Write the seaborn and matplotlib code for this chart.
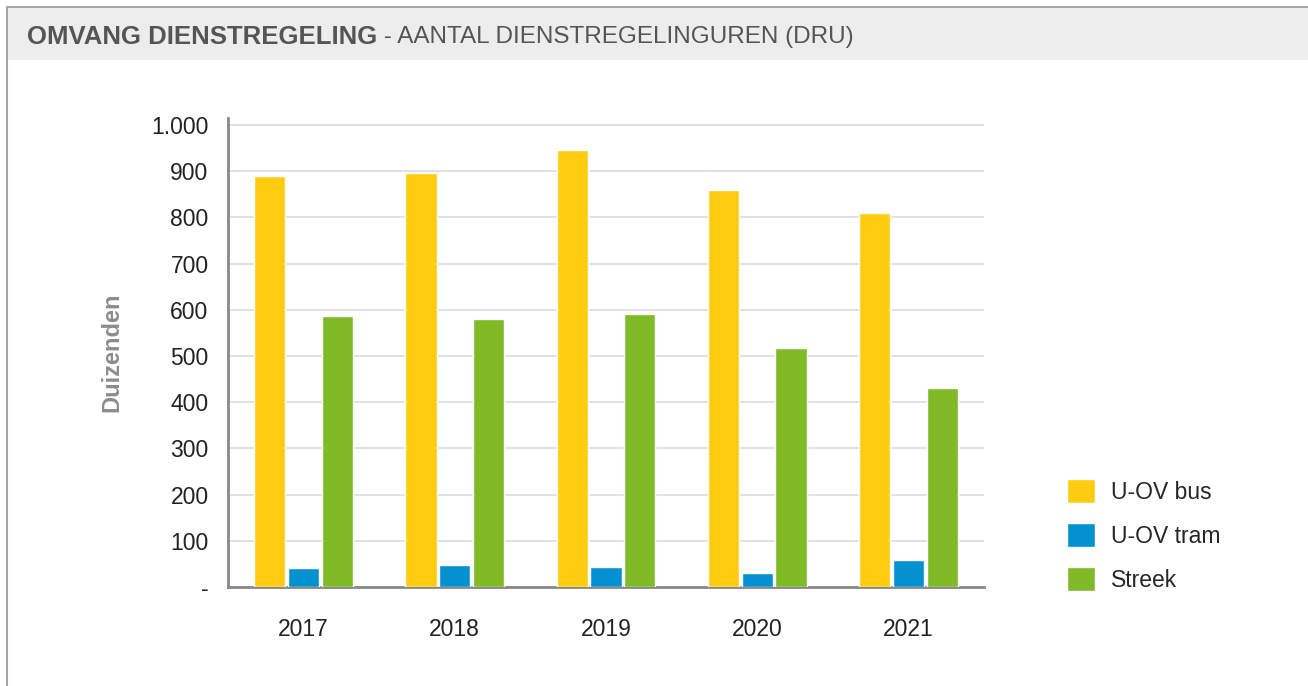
import pandas as pd
import seaborn as sns
import matplotlib.pyplot as plt
from matplotlib.patches import Rectangle
from matplotlib.ticker import FuncFormatter, FixedLocator

# data (duizenden dienstregelinguren)
years = ['2017', '2018', '2019', '2020', '2021']
uov_bus = [890, 896, 946, 859, 810]
uov_tram = [41, 48, 43, 30, 58]
streek = [587, 580, 591, 517, 431]
series = ['U-OV bus', 'U-OV tram', 'Streek']
colors = ['#FFCC12', '#0591CF', '#80BA27']

df = pd.DataFrame({'Jaar': years, 'U-OV bus': uov_bus, 'U-OV tram': uov_tram, 'Streek': streek})
df = df.melt(id_vars='Jaar', var_name='Serie', value_name='Waarde')

sns.set_style('white')
plt.rcParams['font.family'] = ['Liberation Sans', 'DejaVu Sans']

fig = plt.figure(figsize=(13.08, 6.86), dpi=100)

# outer frame and title band
fig.patches.append(Rectangle((7 / 1308, -0.01), 1.2, 1 - 7 / 686 + 0.01, transform=fig.transFigure,
                             facecolor='white', edgecolor='#a6a6a6', linewidth=1.5, zorder=-2))
fig.patches.append(Rectangle((8 / 1308, 1 - 60 / 686), 1.2, 52 / 686, transform=fig.transFigure,
                             facecolor='#ededed', edgecolor='none', zorder=-1))
t = fig.text(27 / 1308, 1 - 37 / 686, 'OMVANG DIENSTREGELING', fontsize=18.5, fontweight='bold',
             color='#555555', va='center', ha='left')
fig.canvas.draw()
bb = t.get_window_extent()
fig.text(bb.x1 / 1308, 1 - 37 / 686, ' - AANTAL DIENSTREGELINGUREN (DRU)', fontsize=17.5,
         color='#555555', va='center', ha='left')

ax = fig.add_axes([228 / 1308, 99 / 686, 756 / 1308, 469 / 686])
sns.barplot(data=df, x='Jaar', y='Waarde', hue='Serie', hue_order=series, palette=colors,
            width=0.67, gap=0.08, saturation=1, ax=ax, legend=True, zorder=3)

ax.set_ylim(0, 1015)
ax.set_xlim(-0.5, 4.5)
ax.set_yticks(range(0, 1001, 100))
ax.yaxis.set_major_formatter(FuncFormatter(lambda v, p: '-' if v == 0 else f'{int(v):,}'.replace(',', '.')))
ax.grid(axis='y', color='#dcdcdc', linewidth=1.2, zorder=0)
ax.set_axisbelow(True)

for s in ['top', 'right']:
    ax.spines[s].set_visible(False)
for s in ['left', 'bottom']:
    ax.spines[s].set_color('#888888')
    ax.spines[s].set_linewidth(2)

ax.tick_params(axis='y', length=6, width=1.2, color='#888888', labelsize=16.5, labelcolor='#222222', pad=8)
ax.tick_params(axis='x', which='major', length=0, labelsize=16.5, labelcolor='#222222', pad=22)
ax.xaxis.set_minor_locator(FixedLocator([-0.5, 0.5, 1.5, 2.5, 3.5, 4.5]))
ax.tick_params(axis='x', which='minor', length=10, width=1.2, color='#888888', direction='out')

ax.set_xlabel('')
ax.set_ylabel('Duizenden', fontsize=17, fontweight='bold', color='#8c8c8c', labelpad=20)

leg = ax.legend(loc='center left', bbox_to_anchor=(1.083, 0.11), frameon=False, fontsize=16.5,
                handlelength=1.2, handleheight=1.2, handletextpad=0.7, labelspacing=0.85)

plt.savefig('out.png', dpi=100)
